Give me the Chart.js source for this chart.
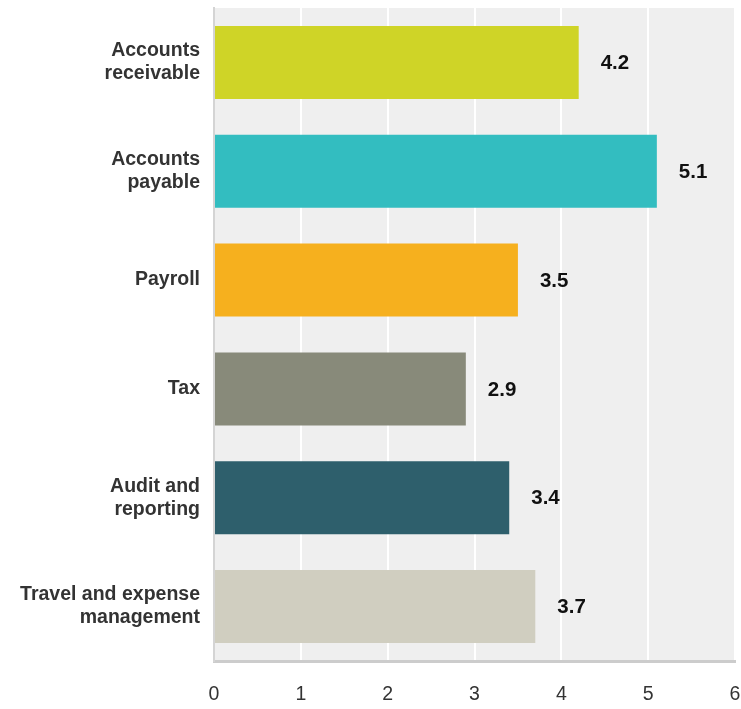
<!DOCTYPE html>
<html>
<head>
<meta charset="utf-8">
<script src="https://cdn.jsdelivr.net/npm/chart.js@4/dist/chart.umd.min.js"></script>
<style>
  html, body { margin: 0; padding: 0; background: #ffffff; }
  #wrap { width: 741px; height: 709px; position: relative; }
</style>
</head>
<body>
<div id="wrap"><canvas id="c"></canvas></div>
<script>
// Functions ranked (average score)
const categories = [
  ['Accounts', 'receivable'],
  ['Accounts', 'payable'],
  'Payroll',
  'Tax',
  ['Audit and', 'reporting'],
  ['Travel and expense', 'management']
];
const scores = [4.2, 5.1, 3.5, 2.9, 3.4, 3.7];
const barColors = ['#cfd427', '#33bdc0', '#f6b01e', '#888a7a', '#2e5f6c', '#d0cec0'];
const xTicks = [0, 1, 2, 3, 4, 5, 6];

const FONT = 'Arial, "Liberation Sans", Helvetica, sans-serif';

// shaded plot background
const plotBackground = {
  id: 'plotBackground',
  beforeDraw(chart) {
    const { ctx, chartArea: a } = chart;
    ctx.save();
    ctx.fillStyle = '#efefef';
    ctx.fillRect(a.left, a.top, a.right - a.left, a.bottom - a.top);
    ctx.restore();
  }
};

// value printed to the right of each bar
const valueLabels = {
  id: 'valueLabels',
  afterDatasetsDraw(chart) {
    const { ctx } = chart;
    const meta = chart.getDatasetMeta(0);
    ctx.save();
    ctx.font = 'bold 20.5px ' + FONT;
    ctx.fillStyle = '#111111';
    ctx.textAlign = 'left';
    ctx.textBaseline = 'middle';
    meta.data.forEach((bar, i) => {
      ctx.fillText(scores[i].toFixed(1), bar.x + 22, bar.y + 1);
    });
    ctx.restore();
  }
};

new Chart(document.getElementById('c'), {
  type: 'bar',
  data: {
    labels: categories,
    datasets: [{
      data: scores,
      backgroundColor: barColors,
      borderWidth: 0,
      barPercentage: 0.67,
      categoryPercentage: 1.0
    }]
  },
  options: {
    indexAxis: 'y',
    responsive: true,
    maintainAspectRatio: false,
    animation: false,
    layout: { padding: { top: 8, right: 6, left: 0, bottom: 0 } },
    plugins: {
      legend: { display: false },
      tooltip: { enabled: false }
    },
    scales: {
      x: {
        min: 0,
        max: 6,
        afterBuildTicks(scale) {
          scale.ticks = xTicks.map(v => ({ value: v }));
        },
        afterFit(scale) {
          scale.height = 48;
          scale.paddingLeft = 0;
          scale.paddingRight = 0;
        },
        grid: {
          color: '#ffffff',
          lineWidth: 2,
          drawTicks: false
        },
        border: { display: true, color: '#cccccc', width: 3 },
        ticks: {
          padding: 22,
          color: '#333333',
          font: { family: FONT, size: 19.5 }
        }
      },
      y: {
        afterFit(scale) {
          scale.width = 214;
          scale.paddingTop = 0;
          scale.paddingBottom = 0;
        },
        grid: { display: false, drawTicks: false },
        border: { display: true, color: '#d4d4d4', width: 2 },
        ticks: {
          padding: 14,
          color: '#333333',
          font: { family: FONT, size: 19.5, weight: 'bold', lineHeight: 1.18 }
        }
      }
    }
  },
  plugins: [plotBackground, valueLabels]
});
</script>
</body>
</html>
